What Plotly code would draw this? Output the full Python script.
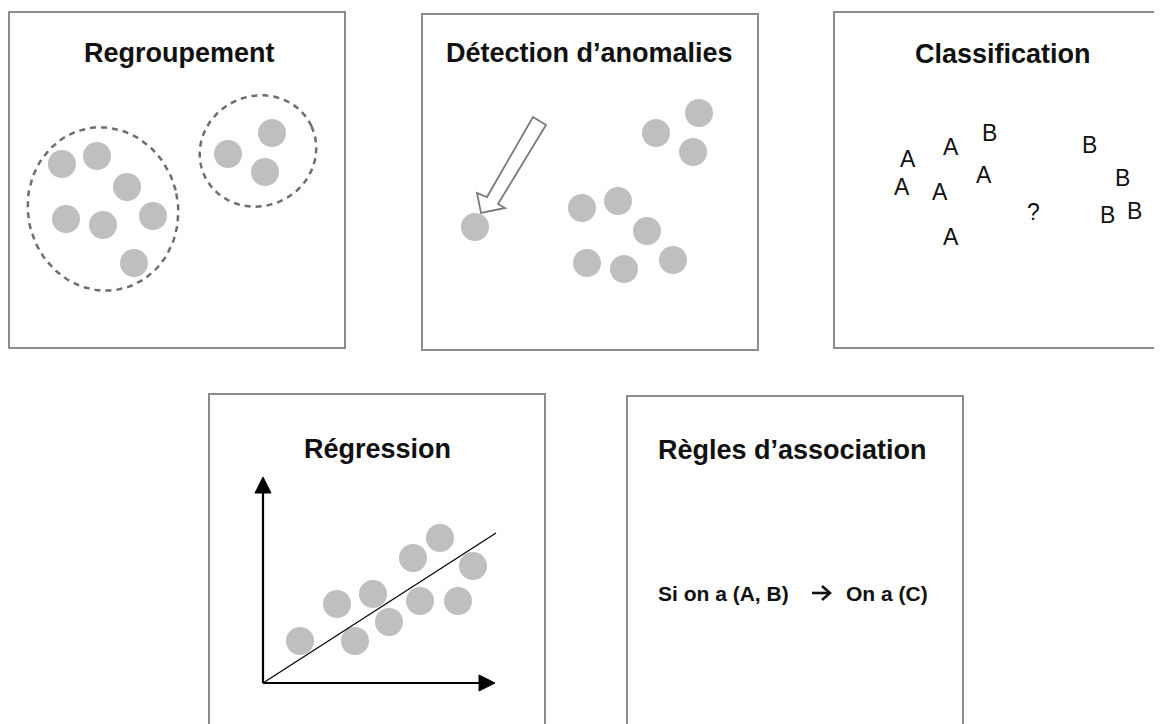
import numpy as np
import plotly.graph_objects as go

W, H = 1162, 724
PAD = 8  # default page body margin

# ---- Data (pixel coordinates of the diagram) ----
panel_titles = ["Regroupement", "Détection d’anomalies", "Classification", "Régression", "Règles d’association"]
panel_x0 = [9, 422, 834, 209, 627]
panel_y0 = [12, 14, 12, 394, 396]
panel_x1 = [345, 758, 1172, 545, 963]
panel_y1 = [348, 350, 348, 740, 740]
title_x = [179, 589, 1003, 377, 792]
title_y = [53, 53, 54, 449, 450]

cluster_x = [62, 97, 127, 66, 103, 153, 134, 228, 272, 265]
cluster_y = [164, 156, 187, 219, 225, 216, 263, 154, 133, 172]

# ellipses: center x, center y, semi-axis a, semi-axis b, rotation (deg)
ell_cx = [103, 258]
ell_cy = [209, 151]
ell_a = [75, 59]
ell_b = [82, 55]
ell_rot = [-12, -25]

anomaly_x = [475, 656, 699, 693, 582, 618, 647, 587, 624, 673]
anomaly_y = [227, 133, 113, 152, 208, 201, 231, 263, 269, 260]
arrow_px = [533, 546, 498, 505, 481, 477, 487]
arrow_py = [117, 125, 204, 208, 213, 193, 197]

class_labels = ["A", "A", "B", "A", "A", "A", "A", "?", "B", "B", "B", "B"]
class_x = [908, 951, 989, 902, 940, 984, 951, 1033, 1089, 1122, 1107, 1134]
class_y = [159, 147, 133, 187, 192, 175, 237, 212, 145, 178, 215, 211]

reg_x = [300, 337, 355, 373, 389, 413, 440, 473, 420, 458]
reg_y = [641, 604, 641, 594, 622, 558, 538, 566, 601, 601]
origin = (263, 683)
reg_line_end = (496, 533)
yaxis_tip = (263, 477)
xaxis_tip = (495, 683)

rule_parts = ["Si on a (A, B)", "On a (C)"]
rule_part_x = [723, 887]
rule_y = 593
rule_arrow = (812, 830)  # x start, x tip

DOT = "#bfbfbf"
BOX = "#8c8c8c"
FONT = "Liberation Sans, Arial, sans-serif"

fig = go.Figure()

# dots
for xs, ys in [(cluster_x, cluster_y), (anomaly_x, anomaly_y), (reg_x, reg_y)]:
    fig.add_trace(go.Scatter(x=xs, y=ys, mode="markers",
                             marker=dict(size=28, color=DOT, line=dict(width=0)),
                             hoverinfo="skip", showlegend=False))

# classification letters
for lab, x, y in zip(class_labels, class_x, class_y):
    fig.add_annotation(x=x, y=y, text=lab, showarrow=False,
                       font=dict(family=FONT, size=23, color="#111"),
                       xanchor="center", yanchor="middle")

shapes = []
# panel boxes
for x0, y0, x1, y1 in zip(panel_x0, panel_y0, panel_x1, panel_y1):
    shapes.append(dict(type="rect", x0=x0, y0=y0, x1=x1, y1=y1, xref="x", yref="y",
                       line=dict(color=BOX, width=2), fillcolor="rgba(0,0,0,0)", layer="below"))

# dashed ellipses
t = np.linspace(0, 2 * np.pi, 121)
for cx, cy, a, b, rot in zip(ell_cx, ell_cy, ell_a, ell_b, ell_rot):
    r = np.deg2rad(rot)
    ex = cx + a * np.cos(t) * np.cos(r) - b * np.sin(t) * np.sin(r)
    ey = cy + a * np.cos(t) * np.sin(r) + b * np.sin(t) * np.cos(r)
    fig.add_trace(go.Scatter(x=ex, y=ey, mode="lines",
                             line=dict(color="#6e6e6e", width=2.5, dash="6px,5px"),
                             hoverinfo="skip", showlegend=False))

# hollow arrow (anomaly)
path = "M " + " L ".join(f"{x},{y}" for x, y in zip(arrow_px, arrow_py)) + " Z"
shapes.append(dict(type="path", path=path, xref="x", yref="y",
                   line=dict(color="#7a7a7a", width=1.8), fillcolor="white"))

# regression axes
shapes.append(dict(type="line", x0=origin[0], y0=origin[1], x1=yaxis_tip[0], y1=yaxis_tip[1] + 12,
                   line=dict(color="black", width=2.2)))
shapes.append(dict(type="line", x0=origin[0], y0=origin[1], x1=xaxis_tip[0] - 12, y1=xaxis_tip[1],
                   line=dict(color="black", width=2.2)))
# arrow heads
tx, ty = yaxis_tip
shapes.append(dict(type="path", path=f"M {tx},{ty} L {tx-8},{ty+16} L {tx+8},{ty+16} Z",
                   line=dict(color="black", width=1), fillcolor="black"))
tx, ty = xaxis_tip
shapes.append(dict(type="path", path=f"M {tx},{ty} L {tx-16},{ty-8} L {tx-16},{ty+8} Z",
                   line=dict(color="black", width=1), fillcolor="black"))
# regression line
shapes.append(dict(type="line", x0=origin[0], y0=origin[1], x1=reg_line_end[0], y1=reg_line_end[1],
                   line=dict(color="black", width=1.2)))

# association rule arrow (open chevron)
ax0, ax1 = rule_arrow
shapes.append(dict(type="line", x0=ax0, y0=rule_y, x1=ax1 - 1, y1=rule_y,
                   line=dict(color="#111", width=2.6)))
shapes.append(dict(type="path", path=f"M {ax1-8},{rule_y-7} L {ax1},{rule_y} L {ax1-8},{rule_y+7}",
                   line=dict(color="#111", width=2.6), fillcolor="rgba(0,0,0,0)"))

# titles
for txt, x, y in zip(panel_titles, title_x, title_y):
    fig.add_annotation(x=x, y=y, text=f"<b>{txt}</b>", showarrow=False,
                       font=dict(family=FONT, size=27, color="#111"),
                       xanchor="center", yanchor="middle")

# association rule text
for txt, x in zip(rule_parts, rule_part_x):
    fig.add_annotation(x=x, y=rule_y, text=f"<b>{txt}</b>", showarrow=False,
                       font=dict(family=FONT, size=21, color="#111"),
                       xanchor="center", yanchor="middle")

fig.update_layout(
    width=W - PAD, height=H - PAD,
    margin=dict(l=0, r=0, t=0, b=0),
    paper_bgcolor="white", plot_bgcolor="white",
    shapes=shapes,
    xaxis=dict(range=[PAD, W], visible=False, fixedrange=True),
    yaxis=dict(range=[H, PAD], visible=False, fixedrange=True),
    showlegend=False,
)

fig.write_html("out.html", config={"displayModeBar": False})
